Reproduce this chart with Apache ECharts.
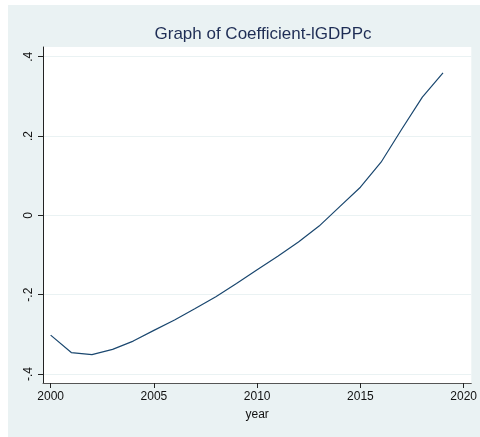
<!DOCTYPE html>
<html>
<head>
<meta charset="utf-8">
<script src="https://cdn.jsdelivr.net/npm/echarts@6/dist/echarts.min.js"></script>
<style>
  html, body { margin: 0; padding: 0; background: #fff; }
  .bg { position: absolute; left: 8px; top: 5px; width: 472px; height: 432px; background: #eaf2f3; }
  .main { position: absolute; left: 0; top: 0; width: 480px; height: 437px; }
</style>
</head>
<body>
<div class="bg"></div>
<div id="chart" class="main"></div>
<script>
// values
var years = [2000, 2001, 2002, 2003, 2004, 2005, 2006, 2007, 2008, 2009,
  2010, 2011, 2012, 2013, 2014, 2015, 2016, 2017, 2018, 2019]
var coef = [-0.302, -0.346, -0.351, -0.338, -0.317, -0.290, -0.264, -0.235, -0.205, -0.172,
  -0.137, -0.103, -0.067, -0.027, 0.022, 0.071, 0.134, 0.217, 0.298, 0.359]
var xTicks = [2000, 2005, 2010, 2015, 2020]
var yTicks = [-0.4, -0.2, 0, 0.2, 0.4]

var chart = echarts.init(document.getElementById('chart'))
var font = 'Liberation Sans, Arial, sans-serif'

chart.setOption({
  animation: false,
  title: {
    text: 'Graph of Coefficient-lGDPPc',
    left: 258,
    textAlign: 'center',
    top: 21,
    textStyle: { color: '#1e2d55', fontSize: 17, fontWeight: 'normal', fontFamily: font }
  },
  grid: {
    left: 43,
    right: 7,
    top: 47,
    bottom: 54,
    show: true,
    backgroundColor: '#fff',
    borderWidth: 0
  },
  xAxis: {
    type: 'value',
    min: 1999.63,
    max: 2020.37,
    name: 'year',
    nameLocation: 'middle',
    nameGap: 26,
    nameTextStyle: { color: '#111', fontSize: 12, fontFamily: font },
    axisLine: { onZero: false, lineStyle: { color: '#555', width: 1 } },
    axisTick: { length: 5, lineStyle: { color: '#222' }, customValues: xTicks },
    axisLabel: {
      color: '#111', fontSize: 12, fontFamily: font, margin: 8,
      customValues: xTicks,
      formatter: function (v) { return String(v) }
    },
    splitLine: { show: false }
  },
  yAxis: {
    type: 'value',
    min: -0.4227,
    max: 0.4245,
    axisLine: { show: true, onZero: false, lineStyle: { color: '#222', width: 1 } },
    axisTick: { show: true, length: 5, lineStyle: { color: '#222' }, customValues: yTicks },
    axisLabel: {
      color: '#111', fontSize: 12, fontFamily: font,
      rotate: 90, margin: 8,
      customValues: yTicks,
      formatter: function (v) {
        if (Math.abs(v) < 1e-9) return '0'
        return (v < 0 ? '-' : '') + String(Math.abs(v).toFixed(1)).replace(/^0/, '')
      }
    },
    splitLine: { show: true, lineStyle: { color: '#eaf2f3', width: 1 } }
  },
  series: [{
    type: 'line',
    data: years.map(function (y, i) { return [y, coef[i]] }),
    showSymbol: false,
    lineStyle: { color: '#1a476f', width: 1.2 }
  }]
})
</script>
</body>
</html>
